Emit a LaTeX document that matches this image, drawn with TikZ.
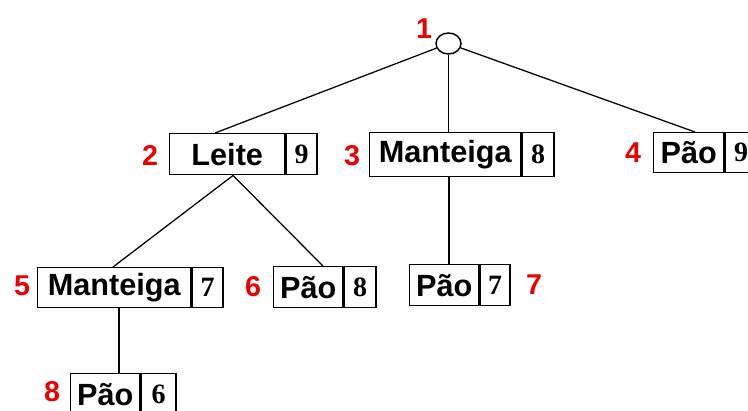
\documentclass[tikz,border=0pt]{standalone}
\usepackage{fontspec}
\newfontfamily\sansfnt{Liberation Sans}
\newfontfamily\seriffnt{Liberation Serif}
\usetikzlibrary{shapes.geometric,calc}
\definecolor{lblred}{RGB}{236,0,0}
\tikzset{
  cellsize/.style 2 args={minimum width=#1*0.75pt, minimum height=#2*0.75pt},
  cellbox/.style={draw, line width=1.1pt, inner sep=0pt, anchor=north west},
  namecell/.style={cellbox, font=\sansfnt\bfseries\fontsize{23}{23}\selectfont},
  valcell/.style={cellbox, font=\seriffnt\bfseries\fontsize{21}{21}\selectfont},
  numlbl/.style={text=lblred, inner sep=0pt, font=\sansfnt\bfseries\fontsize{21.5}{21.5}\selectfont},
  edge/.style={line width=0.95pt},
}
\begin{document}
\begin{tikzpicture}[x=0.75pt,y=-0.75pt]
\useasboundingbox (0,0) rectangle (748,410);
\clip (0,0) rectangle (748,410);

% root
\node[draw, ellipse, line width=1.1pt, inner sep=0pt, minimum width=25*0.75pt, minimum height=21*0.75pt] (root) at (448.5,43.5) {};

% level 1
\node[namecell, cellsize={115}{41}] (b2) at (169,133) {Leite};
\node[valcell, cellsize={31}{41}] (b2v) at (b2.north east) {9};
\node[namecell, cellsize={151}{44}] (b3) at (369,132) {Manteiga};
\node[valcell, cellsize={32}{44}] (b3v) at (b3.north east) {8};
\node[namecell, cellsize={70}{40}] (b4) at (653,132) {Pão};
\node[valcell, cellsize={32}{40}] (b4v) at (b4.north east) {9};

% level 2
\node[namecell, cellsize={153}{40}] (b5) at (37,267) {Manteiga};
\node[valcell, cellsize={31}{40}] (b5v) at (b5.north east) {7};
\node[namecell, cellsize={69}{41}] (b6) at (273,266) {Pão};
\node[valcell, cellsize={32}{41}] (b6v) at (b6.north east) {8};
\node[namecell, cellsize={69}{41}] (b7) at (409,264) {Pão};
\node[valcell, cellsize={30}{41}] (b7v) at (b7.north east) {7};

% level 3
\node[namecell, cellsize={69}{41}] (b8) at (70,373) {Pão};
\node[valcell, cellsize={35}{41}] (b8v) at (b8.north east) {6};

% red order labels
\node[numlbl] (l1) at (424,29) {1};
\node[numlbl] (l2) at (150,155) {2};
\node[numlbl] (l3) at (352,156) {3};
\node[numlbl] (l4) at (633,153) {4};
\node[numlbl] (l5) at (22,286) {5};
\node[numlbl] (l6) at (253,287) {6};
\node[numlbl] (l7) at (534,285) {7};
\node[numlbl] (l8) at (52,392) {8};

% connector end points
\coordinate (b2top) at ($(b2.north west)+(46,0)$);
\coordinate (b4top) at ($(b4.north west)+(42,0)$);
\coordinate (b2bot) at ($(b2.south west)+(64,0)$);
\coordinate (b5top) at ($(b5.north west)+(76,0)$);
\coordinate (b6top) at ($(b6.north west)+(50,0)$);
\coordinate (b3bot) at ($(b3.south west)+(80,0)$);
\coordinate (b7top) at ($(b7.north west)+(40,0)$);
\coordinate (b5bot) at ($(b5.south west)+(82,0)$);
\coordinate (b8top) at ($(b8.north west)+(49,0)$);

% connectors
\draw[edge] (root) -- (b2top);
\draw[edge] (root) -- (root |- b3.north);
\draw[edge] (root) -- (b4top);
\draw[edge] (b2bot) -- (b5top);
\draw[edge] (b2bot) -- (b6top);
\draw[edge] (b3bot) -- (b7top);
\draw[edge] (b5bot) -- (b8top);
\end{tikzpicture}
\end{document}
